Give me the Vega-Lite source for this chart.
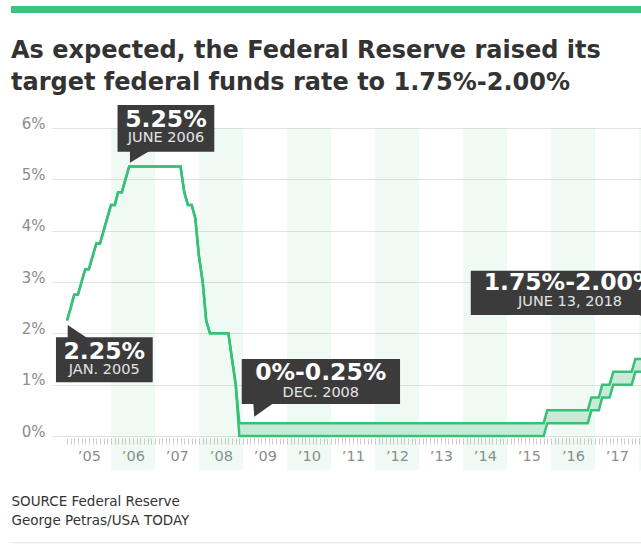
{
  "$schema": "https://vega.github.io/schema/vega-lite/v6.json",
  "width": 589,
  "height": 342,
  "autosize": {"type": "none"},
  "padding": {"left": 52, "top": 128, "right": 0, "bottom": 74},
  "background": "white",
  "config": {"view": {"stroke": null}, "font": "DejaVu Sans"},
  "title": {
    "text": ["As expected, the Federal Reserve raised its", "target federal funds rate to 1.75%-2.00%"],
    "anchor": "start",
    "frame": "group",
    "dx": -41,
    "offset": -89,
    "font": "DejaVu Sans",
    "fontSize": 24,
    "fontWeight": "bold",
    "color": "#333333",
    "lineHeight": 32
  },
  "datasets": {
    "rates": [
      {"date": "2005-01-01", "low": 2.25, "high": 2.25},
      {"date": "2005-02-01", "low": 2.5, "high": 2.5},
      {"date": "2005-03-01", "low": 2.75, "high": 2.75},
      {"date": "2005-04-01", "low": 2.75, "high": 2.75},
      {"date": "2005-05-01", "low": 3.0, "high": 3.0},
      {"date": "2005-06-01", "low": 3.25, "high": 3.25},
      {"date": "2005-07-01", "low": 3.25, "high": 3.25},
      {"date": "2005-08-01", "low": 3.5, "high": 3.5},
      {"date": "2005-09-01", "low": 3.75, "high": 3.75},
      {"date": "2005-10-01", "low": 3.75, "high": 3.75},
      {"date": "2005-11-01", "low": 4.0, "high": 4.0},
      {"date": "2005-12-01", "low": 4.25, "high": 4.25},
      {"date": "2006-01-01", "low": 4.5, "high": 4.5},
      {"date": "2006-02-01", "low": 4.5, "high": 4.5},
      {"date": "2006-03-01", "low": 4.75, "high": 4.75},
      {"date": "2006-04-01", "low": 4.75, "high": 4.75},
      {"date": "2006-05-01", "low": 5.0, "high": 5.0},
      {"date": "2006-06-01", "low": 5.25, "high": 5.25},
      {"date": "2007-08-01", "low": 5.25, "high": 5.25},
      {"date": "2007-09-01", "low": 4.75, "high": 4.75},
      {"date": "2007-10-01", "low": 4.5, "high": 4.5},
      {"date": "2007-11-01", "low": 4.5, "high": 4.5},
      {"date": "2007-12-01", "low": 4.25, "high": 4.25},
      {"date": "2008-01-01", "low": 3.5, "high": 3.5},
      {"date": "2008-02-01", "low": 3.0, "high": 3.0},
      {"date": "2008-03-01", "low": 2.25, "high": 2.25},
      {"date": "2008-04-01", "low": 2.0, "high": 2.0},
      {"date": "2008-09-01", "low": 2.0, "high": 2.0},
      {"date": "2008-10-01", "low": 1.5, "high": 1.5},
      {"date": "2008-11-01", "low": 1.0, "high": 1.0},
      {"date": "2008-12-01", "low": 0.0, "high": 0.25},
      {"date": "2015-11-01", "low": 0.0, "high": 0.25},
      {"date": "2015-12-01", "low": 0.25, "high": 0.5},
      {"date": "2016-11-01", "low": 0.25, "high": 0.5},
      {"date": "2016-12-01", "low": 0.5, "high": 0.75},
      {"date": "2017-02-01", "low": 0.5, "high": 0.75},
      {"date": "2017-03-01", "low": 0.75, "high": 1.0},
      {"date": "2017-05-01", "low": 0.75, "high": 1.0},
      {"date": "2017-06-01", "low": 1.0, "high": 1.25},
      {"date": "2017-11-01", "low": 1.0, "high": 1.25},
      {"date": "2017-12-01", "low": 1.25, "high": 1.5},
      {"date": "2018-02-01", "low": 1.25, "high": 1.5},
      {"date": "2018-03-01", "low": 1.5, "high": 1.75},
      {"date": "2018-05-01", "low": 1.5, "high": 1.75},
      {"date": "2018-06-01", "low": 1.75, "high": 2.0}
    ],
    "bands": [
      {"start": "2006-01-01", "end": "2007-01-01"},
      {"start": "2008-01-01", "end": "2009-01-01"},
      {"start": "2010-01-01", "end": "2011-01-01"},
      {"start": "2012-01-01", "end": "2013-01-01"},
      {"start": "2014-01-01", "end": "2015-01-01"},
      {"start": "2016-01-01", "end": "2017-01-01"},
      {"start": "2018-01-01", "end": "2019-01-01"}
    ],
    "boxes": [
      {"callout": "peak", "start": "2006-02-24", "end": "2008-05-07", "top": 6.447, "bottom": 5.538},
      {"callout": "start", "start": "2004-10-01", "end": "2006-12-13", "top": 1.922, "bottom": 1.046},
      {"callout": "low", "start": "2008-12-21", "end": "2012-07-27", "top": 1.5, "bottom": 0.623},
      {"callout": "latest", "start": "2014-03-06", "end": "2018-09-09", "top": 3.22, "bottom": 2.357}
    ],
    "pointers": [
      {"callout": "peak", "date": "2006-06-07", "value": 5.323},
      {"callout": "start", "date": "2005-01-06", "value": 2.162},
      {"callout": "low", "date": "2009-04-04", "value": 0.376},
      {"callout": "latest", "date": "2018-06-08", "value": 2.123}
    ],
    "labels": [
      {"callout": "peak", "role": "rate", "date": "2007-04-02", "value": 6.025, "text": "5.25%"},
      {"callout": "peak", "role": "date", "date": "2007-04-02", "value": 5.72, "text": "JUNE 2006"},
      {"callout": "start", "role": "rate", "date": "2005-11-06", "value": 1.494, "text": "2.25%"},
      {"callout": "start", "role": "date", "date": "2005-11-06", "value": 1.202, "text": "JAN. 2005"},
      {"callout": "low", "role": "rate", "date": "2010-10-08", "value": 1.091, "text": "0%-0.25%"},
      {"callout": "low", "role": "date", "date": "2010-10-08", "value": 0.766, "text": "DEC. 2008"},
      {"callout": "latest", "role": "rate", "date": "2016-06-07", "value": 2.844, "text": "1.75%-2.00%"},
      {"callout": "latest", "role": "date", "date": "2016-06-07", "value": 2.532, "text": "JUNE 13, 2018"}
    ]
  },
  "layer": [
    {
      "data": {"name": "bands"},
      "mark": {"type": "rect", "color": "#3cc47c", "opacity": 0.08},
      "encoding": {
        "x": {"field": "start", "type": "temporal",
              "scale": {"type": "utc", "domain": [{"year": 2004, "month": 8, "date": 29, "utc": true}, {"year": 2018, "month": 1, "date": 17, "utc": true}]}},
        "x2": {"field": "end"},
        "y": {"datum": 6, "type": "quantitative", "scale": {"domain": [-0.662, 6], "nice": false, "zero": false}},
        "y2": {"datum": -0.662}
      }
    },
    {
      "data": {"name": "rates"},
      "mark": {"type": "area", "color": "#c7ebd7", "clip": true},
      "encoding": {
        "x": {"field": "date", "type": "temporal",
              "scale": {"type": "utc", "domain": [{"year": 2004, "month": 8, "date": 29, "utc": true}, {"year": 2018, "month": 1, "date": 17, "utc": true}]},
              "axis": {
                "orient": "bottom", "offset": -32, "domain": false, "grid": false,
                "tickCount": {"interval": "month", "step": 1},
                "ticks": true, "tickSize": 6, "tickColor": "#cccccc", "tickWidth": 1,
                "tickOpacity": {"condition": {"test": "datum.value < utc(2005,0,1)", "value": 0}, "value": 1},
                "labelExpr": "utcmonth(datum.value) == 6 ? '’' + utcFormat(datum.value, '%y') : ''",
                "labelOverlap": false, "labelBound": false, "labelFlush": false,
                "labelFont": "DejaVu Sans", "labelFontSize": 14.5, "labelColor": "#8c8c8c",
                "labelBaseline": "middle", "labelPadding": 12,
                "title": ["SOURCE Federal Reserve", "George Petras/USA TODAY"],
                "titleFont": "DejaVu Sans", "titleFontSize": 13.5, "titleFontWeight": "normal",
                "titleColor": "#333333", "titleAnchor": "start", "titleAlign": "left",
                "titleBaseline": "alphabetic", "titleX": -41, "titleY": 67.7, "titleLineHeight": 19
              }},
        "y": {"field": "low", "type": "quantitative",
              "scale": {"domain": [-0.662, 6], "nice": false, "zero": false},
              "axis": {
                "values": [0, 1, 2, 3, 4, 5, 6], "labelExpr": "datum.value + '%'",
                "grid": true, "gridColor": "#e2e2e2", "gridWidth": 1,
                "domain": false, "ticks": false, "labelPadding": 7,
                "labelFont": "DejaVu Sans", "labelFontSize": 15, "labelColor": "#8c8c8c",
                "labelBaseline": "alphabetic", "title": null
              }},
        "y2": {"field": "high"}
      }
    },
    {
      "data": {"name": "rates"},
      "mark": {"type": "line", "color": "#36c177", "strokeWidth": 2.5, "clip": true},
      "encoding": {
        "x": {"field": "date", "type": "temporal"},
        "y": {"field": "high", "type": "quantitative"}
      }
    },
    {
      "data": {"name": "rates"},
      "mark": {"type": "line", "color": "#36c177", "strokeWidth": 2.5, "clip": true},
      "encoding": {
        "x": {"field": "date", "type": "temporal"},
        "y": {"field": "low", "type": "quantitative"}
      }
    },
    {
      "data": {"name": "boxes"},
      "mark": {"type": "rect", "color": "#3b3b3b"},
      "encoding": {
        "x": {"field": "start", "type": "temporal"},
        "x2": {"field": "end"},
        "y": {"field": "top", "type": "quantitative"},
        "y2": {"field": "bottom"}
      }
    },
    {
      "data": {"name": "pointers"},
      "mark": {"type": "point", "filled": true, "color": "#3b3b3b", "opacity": 1, "size": 400, "strokeWidth": 0},
      "encoding": {
        "x": {"field": "date", "type": "temporal"},
        "y": {"field": "value", "type": "quantitative"},
        "shape": {"field": "callout", "type": "nominal", "legend": null,
                  "scale": {"domain": ["peak", "start", "low", "latest"],
                            "range": ["M0,0L0,-1.2L2,-1.2Z", "M0,0L0,1.3L1.96,1.3Z", "M0,0L-0.1,-1.35L1.9,-1.35Z", "M0,0L-2,-1.3L0,-1.3Z"]}}
      }
    },
    {
      "data": {"name": "labels"},
      "transform": [{"filter": "datum.role == 'rate'"}],
      "mark": {"type": "text", "font": "DejaVu Sans", "fontWeight": "bold", "fontSize": 23.5, "color": "#ffffff", "align": "center", "baseline": "alphabetic"},
      "encoding": {
        "x": {"field": "date", "type": "temporal"},
        "y": {"field": "value", "type": "quantitative"},
        "text": {"field": "text"}
      }
    },
    {
      "data": {"name": "labels"},
      "transform": [{"filter": "datum.role == 'date'"}],
      "mark": {"type": "text", "font": "DejaVu Sans", "fontSize": 14.5, "color": "#e4e4e4", "align": "center", "baseline": "alphabetic"},
      "encoding": {
        "x": {"field": "date", "type": "temporal"},
        "y": {"field": "value", "type": "quantitative"},
        "text": {"field": "text"}
      }
    },
    {
      "data": {"values": [{}]},
      "mark": {"type": "rect", "color": "#3cc47c"},
      "encoding": {
        "x": {"datum": {"year": 2003, "month": 9, "date": 23, "utc": true}, "type": "temporal"},
        "x2": {"datum": {"year": 2019, "month": 1, "date": 1, "utc": true}},
        "y": {"datum": 8.376, "type": "quantitative"},
        "y2": {"datum": 8.239}
      }
    },
    {
      "data": {"values": [{}]},
      "mark": {"type": "rule", "color": "#dce8e3", "strokeWidth": 1},
      "encoding": {
        "x": {"datum": {"year": 2003, "month": 9, "date": 23, "utc": true}, "type": "temporal"},
        "x2": {"datum": {"year": 2019, "month": 1, "date": 1, "utc": true}},
        "y": {"datum": -2.08, "type": "quantitative"}
      }
    }
  ]
}
